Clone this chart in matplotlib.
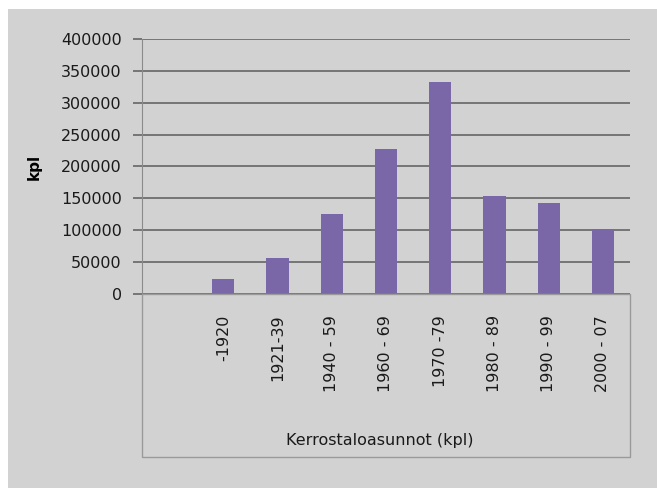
import matplotlib.pyplot as plt
from matplotlib.patches import Rectangle
import numpy as np

# Kerrostaloasunnot rakennusvuoden mukaan (luettu kuvasta)
periods = ["-1920", "1921-39", "1940 - 59", "1960 - 69", "1970 -79",
           "1980 - 89", "1990 - 99", "2000 - 07"]
counts = [24000, 56000, 125000, 227000, 332000, 154000, 142000, 102000]
yticks = [0, 50000, 100000, 150000, 200000, 250000, 300000, 350000, 400000]

bg = "#d2d2d2"
grid_col = "#6e6e6e"
bar_col = "#7a67a8"

fig = plt.figure(figsize=(6.57, 4.91), dpi=100, facecolor="white")
# scanned page area
fig.add_artist(Rectangle((8 / 657, 3 / 491), 1 - 8 / 657, 479 / 491,
                         transform=fig.transFigure, facecolor=bg,
                         edgecolor="none", zorder=0))

ax = fig.add_axes([142 / 657, 1 - 294 / 491, 488 / 657, 255 / 491])
ax.set_facecolor("none")

x = np.arange(len(periods))
ax.bar(x, counts, width=0.41, color=bar_col, zorder=3)

ax.set_xlim(-1.5, len(periods) - 0.5)
ax.set_ylim(0, 400000)
ax.set_yticks(yticks)
ax.set_yticklabels([str(v) for v in yticks], fontsize=11.5, color="#1a1a1a")
ax.set_xticks(x)
ax.set_xticklabels(periods, rotation=90, fontsize=11.5, color="#1a1a1a")
ax.tick_params(axis="x", length=0, pad=15)
ax.tick_params(axis="y", length=6.5, width=1.3, color=grid_col, pad=8)

ax.yaxis.grid(True, color=grid_col, linewidth=1.3, zorder=1)
ax.set_axisbelow(True)
for side in ["top", "right", "bottom"]:
    ax.spines[side].set_visible(False)
ax.spines["left"].set_color("#8a8a8a")

# box around the category labels
fig.add_artist(Rectangle((142 / 657, 1 - 457 / 491), 488 / 657, 163 / 491,
                         transform=fig.transFigure, facecolor="none",
                         edgecolor="#9a9a9a", linewidth=1.0, zorder=2))

ax.set_ylabel("kpl", fontsize=11, fontweight="bold", labelpad=14)
fig.text(380 / 657, 1 - 440 / 491, "Kerrostaloasunnot (kpl)",
         fontsize=11.5, color="#1a1a1a", ha="center", va="center")

plt.savefig("out.png", dpi=100, facecolor=fig.get_facecolor())
